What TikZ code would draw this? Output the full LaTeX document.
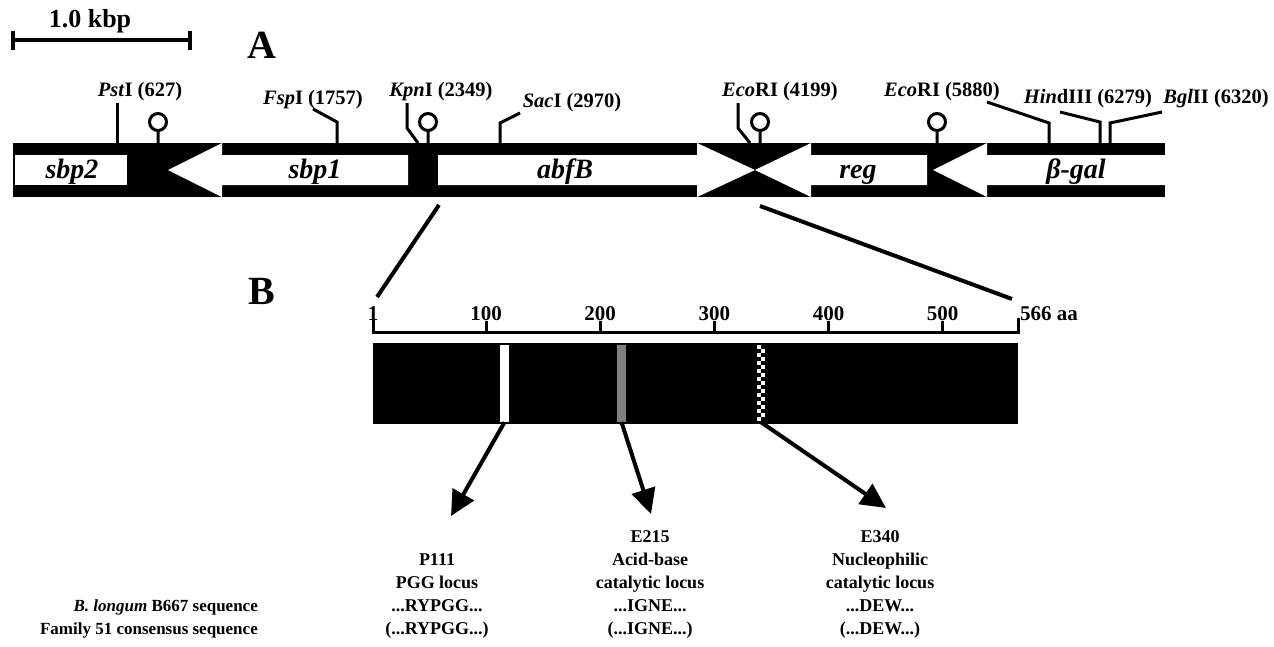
\documentclass[tikz,border=0pt]{standalone}
\usepackage{fontspec}
\setmainfont{Liberation Serif}
\usepackage{tikz}
\usetikzlibrary{arrows.meta}

\begin{document}
\begin{tikzpicture}[x=1pt, y=-1pt, every node/.style={inner sep=0pt},
    site/.style={font=\fontsize{20.5}{22}\selectfont\bfseries},
    gene/.style={font=\fontsize{28}{30}\selectfont\bfseries\itshape, anchor=base},
    panel/.style={font=\fontsize{40}{42}\selectfont\bfseries},
    aalabel/.style={font=\fontsize{21}{23}\selectfont\bfseries},
    locus/.style={font=\fontsize{18}{23}\selectfont\bfseries, align=center},
    cut/.style={line width=3pt},
    term/.style={line width=3pt},
    zoomline/.style={line width=4pt},
    motif/.style={minimum width=9pt, minimum height=77pt},
    pointer/.style={line width=4pt, -{Triangle[length=25pt, width=24pt]}}]
  \useasboundingbox (0,0) rectangle (1274,646);
  % scale bar and panel letters
  \draw[line width=3.5pt] (13,31) -- (13,40) -- (190,40) -- (190,31) (13,40) -- (13,50) (190,40) -- (190,50);
  \node[font=\fontsize{26}{28}\selectfont\bfseries] (kbp) at (90,21) {1.0 kbp};
  \node[panel] (A) at (262,45) {A};
  \node[panel] (B) at (262,291) {B};
  % gene map
  \fill (13,143) rectangle (1165,197);
  \fill[white] (15,155) rectangle (127,185);
  \fill[white] (168,170) -- (222,143) -- (222,155) -- (408,155) -- (408,185) -- (222,185) -- (222,197) -- cycle;
  \fill[white] (438,155) -- (697,155) -- (697,143) -- (755,170) -- (697,197) -- (697,185) -- (438,185) -- cycle;
  \fill[white] (755,170) -- (811,143) -- (811,155) -- (927,155) -- (927,185) -- (811,185) -- (811,197) -- cycle;
  \fill[white] (933,170) -- (987,143) -- (987,155) -- (1165,155) -- (1165,185) -- (987,185) -- (987,197) -- cycle;
  \node[gene] (sbp2) at (72,178) {sbp2};
  \node[gene] (sbp1) at (315,178) {sbp1};
  \node[gene] (abfB) at (565,178) {abfB};
  \node[gene] (reg) at (858,178) {reg};
  \node[gene] (bgal) at (1076,178) {β-gal};
  % terminators
  \foreach \x in {158,428,760,937}
    \draw[term] (\x,143) -- (\x,131) (\x,122) circle[radius=8.5pt];
  % restriction sites
  \node[site] (pst) at (140,92) {\textit{Pst}I (627)};
  \draw[cut] (117,143) -- (117,103);
  \node[site] (fsp) at (313,100) {\textit{Fsp}I (1757)};
  \draw[cut] (337,143) -- (337,122) -- (313,109);
  \node[site] (kpn) at (441,92) {\textit{Kpn}I (2349)};
  \draw[cut] (418,143) -- (407,128) -- (407,103);
  \node[site] (sac) at (572,103) {\textit{Sac}I (2970)};
  \draw[cut] (500,143) -- (500,123) -- (520,113);
  \node[site] (eco1) at (780,92) {\textit{Eco}RI (4199)};
  \draw[cut] (750,143) -- (738,128) -- (738,103);
  \node[site] (eco2) at (942,92) {\textit{Eco}RI (5880)};
  \draw[cut] (1049,143) -- (1049,123) -- (987,102);
  \node[site] (hind) at (1088,99) {\textit{Hin}dIII (6279)};
  \draw[cut] (1100,143) -- (1100,122) -- (1060,112);
  \node[site] (bgl) at (1216,99) {\textit{Bgl}II (6320)};
  \draw[cut] (1110,143) -- (1110,123) -- (1162,112);
  % zoom onto abfB
  \draw[zoomline] (439,205) -- (377,297);
  \draw[zoomline] (760,206) -- (1012,299);
  % amino acid ruler
  \draw[line width=3pt] (373,318) -- (373,332) -- (1018,332) -- (1018,318);
  \foreach \aa in {100,200,...,500} {
    \draw[line width=3pt] ({373+(\aa-1)/565*645},332) -- ({373+(\aa-1)/565*645},321);
    \node[aalabel] at ({373+(\aa-1)/565*645},314) {\aa};
  }
  \node[aalabel] (one) at (373,314) {1};
  \node[aalabel, anchor=west] (end) at (1020,314) {566 aa};
  % protein bar and motifs
  \fill (373,343) rectangle (1018,424);
  \node[motif, fill=white] (p111) at (504.5,383.5) {};
  \node[motif, fill=black!50] (e215) at (621.5,383.5) {};
  \node[motif] (e340) at (761,383.5) {};
  \foreach \i in {0,...,18}
    \fill[white] ({757+4*mod(\i,2)},{345+4*\i}) rectangle ++(4,4);
  % loci
  \coordinate (t111) at (451,516);
  \coordinate (t215) at (651,514);
  \coordinate (t340) at (886,508);
  \draw[pointer] (p111.south) -- (t111);
  \draw[pointer] (e215.south) -- (t215);
  \draw[pointer] (e340.south) -- (t340);
  \node[locus] (l111) at (437,596) {P111\\PGG locus\\...RYPGG...\\(...RYPGG...)};
  \node[locus] (l215) at (650,584) {E215\\Acid-base\\catalytic locus\\...IGNE...\\(...IGNE...)};
  \node[locus] (l340) at (880,584) {E340\\Nucleophilic\\catalytic locus\\...DEW...\\(...DEW...)};
  \node[locus, font=\fontsize{17}{23}\selectfont\bfseries, align=right, anchor=east] (seq) at (258,619) {\textit{B. longum} B667 sequence\\Family 51 consensus sequence};
\end{tikzpicture}
\end{document}
